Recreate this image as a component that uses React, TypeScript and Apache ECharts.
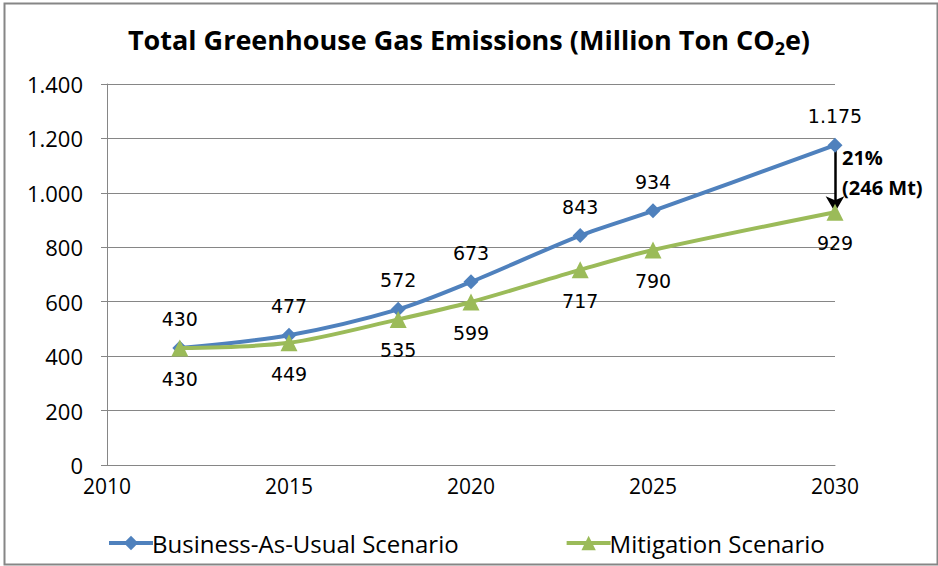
import React, { useEffect, useRef } from "react";
import * as echarts from "echarts";

// Years at which each scenario was modelled
const years = [2012, 2015, 2018, 2020, 2023, 2025, 2030];
// Emissions in million tonnes CO2e
const businessAsUsual = [430, 477, 572, 673, 843, 934, 1175];
const mitigation = [430, 449, 535, 599, 717, 790, 929];
const seriesNames = ["Business-As-Usual Scenario", "Mitigation Scenario"];
const reductionLabel = ["21%", "(246 Mt)"];

const BLUE = "#4F81BD";
const GREEN = "#9BBB59";
const GREY = "#868686";
const SANS = "'Open Sans', 'Noto Sans', sans-serif";

// Thousands separator written as a dot
const fmt = (v: number) => String(v).replace(/\B(?=(\d{3})+(?!\d))/g, ".");

export default function App() {
  const ref = useRef<HTMLDivElement>(null);

  useEffect(() => {
    if (!ref.current) return;
    const chart = echarts.init(ref.current, null, { renderer: "svg" });
    const pairs = (ys: number[]) => years.map((y, i) => [y, ys[i]]);
    const lastYear = years[years.length - 1];
    const top = businessAsUsual[businessAsUsual.length - 1];
    const bottom = mitigation[mitigation.length - 1];

    chart.setOption({
      animation: false,
      backgroundColor: "#ffffff",
      title: {
        text: "{a|Total Greenhouse Gas Emissions (Million Ton CO}{s|2}{a|e)}",
        left: "center",
        top: 16,
        textStyle: {
          rich: {
            a: { fontFamily: SANS, fontWeight: "bold", fontSize: 27, color: "#000", lineHeight: 36 },
            s: {
              fontFamily: SANS,
              fontWeight: "bold",
              fontSize: 18,
              color: "#000",
              lineHeight: 14,
              verticalAlign: "bottom",
            },
          },
        },
      },
      grid: { left: 107, right: 103, top: 84, bottom: 101, containLabel: false },
      xAxis: {
        type: "value",
        min: 2010,
        max: 2030,
        interval: 5,
        axisLine: { show: true, lineStyle: { color: GREY, width: 1 } },
        axisTick: { show: false },
        splitLine: { show: false },
        axisLabel: {
          fontFamily: SANS,
          fontSize: 21,
          color: "#000",
          margin: 10,
          formatter: (v: number) => String(v),
        },
      },
      yAxis: {
        type: "value",
        min: 0,
        max: 1400,
        interval: 200,
        axisLine: { show: true, lineStyle: { color: GREY, width: 1 } },
        axisTick: { show: true, length: 6, lineStyle: { color: GREY } },
        splitLine: { show: true, lineStyle: { color: GREY, width: 1 } },
        axisLabel: { fontFamily: SANS, fontSize: 22, color: "#000", margin: 24, formatter: fmt },
      },
      legend: {
        left: 102,
        top: 526,
        itemWidth: 44,
        itemHeight: 18,
        itemGap: 106,
        lineStyle: { width: 4 },
        textStyle: { fontFamily: SANS, fontSize: 24, color: "#000", padding: [0, 0, 0, -6] },
        data: seriesNames,
      },
      series: [
        {
          name: seriesNames[0],
          type: "line",
          data: pairs(businessAsUsual),
          smooth: 0.3,
          symbol: "diamond",
          symbolSize: 15,
          color: BLUE,
          lineStyle: { width: 4, color: BLUE },
          itemStyle: { color: BLUE },
          label: {
            show: true,
            position: "top",
            distance: 12,
            fontFamily: "'DejaVu Sans', sans-serif",
            fontSize: 19,
            color: "#000",
            formatter: (p: any) => fmt(p.value[1]),
          },
          markLine: {
            silent: true,
            symbol: ["none", "arrow"],
            symbolSize: [14, 16],
            label: { show: false },
            lineStyle: { color: "#000", width: 2.5, type: "solid" },
            data: [[{ coord: [lastYear, top] }, { coord: [lastYear, bottom] }]],
            z: 1,
          },
          z: 3,
        },
        {
          name: seriesNames[1],
          type: "line",
          data: pairs(mitigation),
          smooth: 0.3,
          symbol: "triangle",
          symbolSize: 17,
          color: GREEN,
          lineStyle: { width: 4, color: GREEN },
          itemStyle: { color: GREEN },
          label: {
            show: true,
            position: "bottom",
            distance: 13,
            fontFamily: "'DejaVu Sans', sans-serif",
            fontSize: 19,
            color: "#000",
            formatter: (p: any) => fmt(p.value[1]),
          },
          z: 4,
        },
      ],
    });

    // Reduction note beside the arrow, placed from the axis scales
    const p1 = chart.convertToPixel({ gridIndex: 0 }, [lastYear, top]) as number[];
    const p2 = chart.convertToPixel({ gridIndex: 0 }, [lastYear, bottom]) as number[];
    chart.setOption({
      graphic: [
        {
          type: "rect",
          left: 2,
          top: 1,
          shape: { width: 933, height: 561 },
          style: { fill: "none", stroke: GREY, lineWidth: 2 },
          silent: true,
        },
        {
          type: "text",
          x: p1[0] + 7,
          y: (p1[1] + p2[1]) / 2 - 6,
          style: {
            text: reductionLabel.join("\n"),
            fontFamily: SANS,
            fontWeight: "bold",
            fontSize: 20,
            lineHeight: 30,
            fill: "#000",
            verticalAlign: "middle",
            align: "left",
          },
          z: 10,
        },
      ],
    });

    return () => chart.dispose();
  }, []);

  return (
    <div
      ref={ref}
      style={{ position: "fixed", left: 0, top: 0, width: 938, height: 566, background: "#fff" }}
    />
  );
}
